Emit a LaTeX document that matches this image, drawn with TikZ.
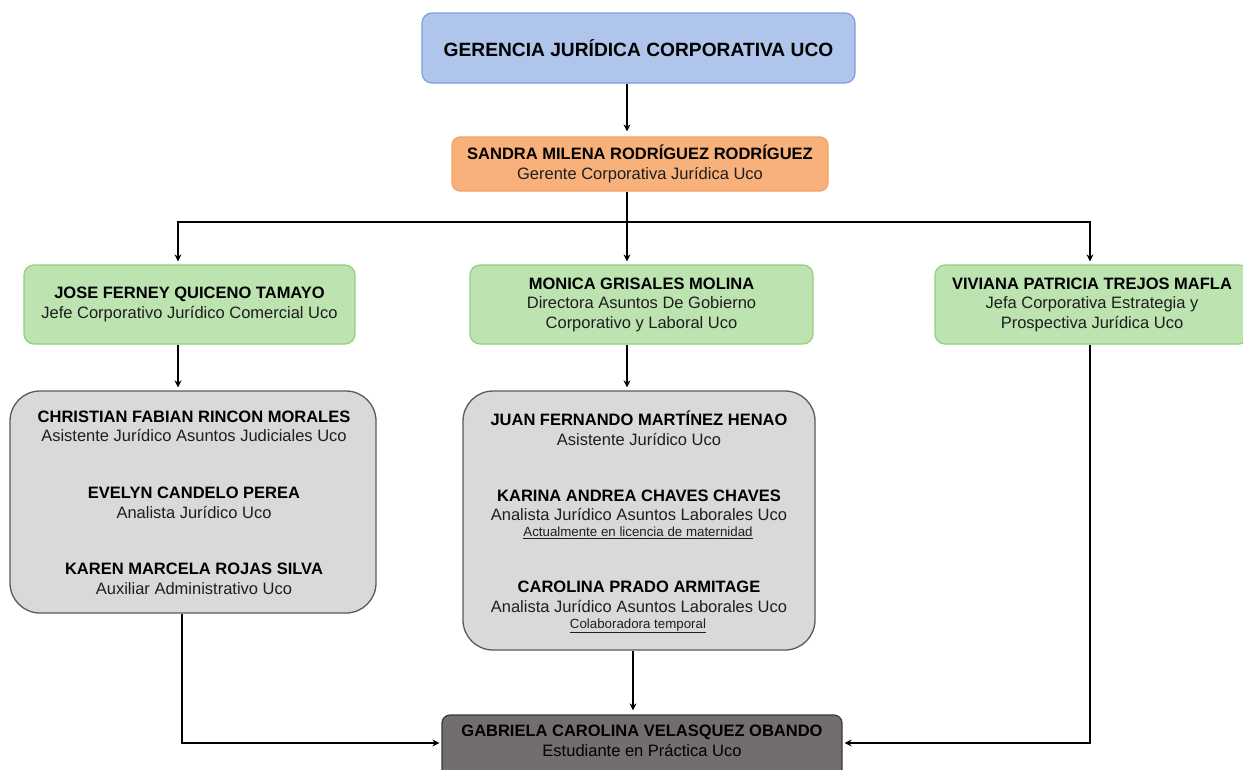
\documentclass[tikz,border=0pt]{standalone}
\usepackage{fontspec}
\setmainfont{Liberation Sans}
\usetikzlibrary{arrows.meta}
\definecolor{topfill}{HTML}{B0C5EB}
\definecolor{topdraw}{HTML}{7E9FDA}
\definecolor{orgfill}{HTML}{F9B17B}
\definecolor{orgdraw}{HTML}{F6A263}
\definecolor{grnfill}{HTML}{BDE3B1}
\definecolor{grndraw}{HTML}{90D07E}
\definecolor{gryfill}{HTML}{D9D9D9}
\definecolor{grydraw}{HTML}{5A5A5A}
\definecolor{botfill}{HTML}{736E6E}
\definecolor{botdraw}{HTML}{3A3A3A}
\definecolor{subtxt}{HTML}{1E1E1E}
\begin{document}
\begin{tikzpicture}[x=1pt,y=-1pt,
  basebox/.style={rectangle, line width=1.2pt, inner sep=0pt, align=center,
    font=\fontsize{16.5}{19.5}\selectfont},
  topbox/.style={basebox, rounded corners=10pt, fill=topfill, draw=topdraw},
  orgbox/.style={basebox, rounded corners=8pt, fill=orgfill, draw=orgdraw},
  grnbox/.style={basebox, rounded corners=10pt, fill=grnfill, draw=grndraw},
  grybox/.style={basebox, rounded corners=30pt, fill=gryfill, draw=grydraw, line width=1.3pt},
  botbox/.style={basebox, rounded corners=8pt, fill=botfill, draw=botdraw},
  txt/.style={align=center, inner sep=0pt, font=\fontsize{16.5}{19.5}\selectfont},
  small/.style={align=center, inner sep=0pt, font=\fontsize{13.3}{15}\selectfont, text=subtxt},
  arr/.style={line width=1.3pt, -{Stealth[length=7pt,width=7pt]}, shorten >=3pt},
  ln/.style={line width=1.3pt}
]
\useasboundingbox (0,0) rectangle (1243,769);

% boxes
\node[topbox, minimum width=433pt, minimum height=70pt, font=\fontsize{19.2}{22}\selectfont\bfseries] (top) at (638.5,48) {GERENCIA JURÍDICA CORPORATIVA UCO};
\node[orgbox, minimum width=376pt, minimum height=54pt] (org) at (640,164)
  {\textbf{SANDRA MILENA RODRÍGUEZ RODRÍGUEZ}\\ \textcolor{subtxt}{Gerente Corporativa Jurídica Uco}};
\node[grnbox, minimum width=331pt, minimum height=79pt] (gL) at (189.5,304.5)
  {\textbf{JOSE FERNEY QUICENO TAMAYO}\\ \textcolor{subtxt}{Jefe Corporativo Jurídico Comercial Uco}};
\node[grnbox, minimum width=343pt, minimum height=79pt] (gM) at (641.5,304.5)
  {\textbf{MONICA GRISALES MOLINA}\\ \textcolor{subtxt}{Directora Asuntos De Gobierno}\\ \textcolor{subtxt}{Corporativo y Laboral Uco}};
\node[grnbox, minimum width=314pt, minimum height=79pt] (gR) at (1092,304.5)
  {\textbf{VIVIANA PATRICIA TREJOS MAFLA}\\ \textcolor{subtxt}{Jefa Corporativa Estrategia y}\\ \textcolor{subtxt}{Prospectiva Jurídica Uco}};
\node[grybox, minimum width=366pt, minimum height=222pt] (yL) at (193,502) {};
\node[grybox, minimum width=352pt, minimum height=259pt] (yM) at (639,520.5) {};
\node[botbox, minimum width=400pt, minimum height=62pt] (bot) at (642,746) {};

% texts in grey boxes
\node[txt] (yL1) at (194,426.5) {\textbf{CHRISTIAN FABIAN RINCON MORALES}\\ \textcolor{subtxt}{Asistente Jurídico Asuntos Judiciales Uco}};
\node[txt] (yL2) at (194,503) {\textbf{EVELYN CANDELO PEREA}\\ \textcolor{subtxt}{Analista Jurídico Uco}};
\node[txt] (yL3) at (194,579) {\textbf{KAREN MARCELA ROJAS SILVA}\\ \textcolor{subtxt}{Auxiliar Administrativo Uco}};

\node[txt] (yM1) at (639,428.5) {\textbf{JUAN FERNANDO MARTÍNEZ HENAO}\\ \textcolor{subtxt}{Asistente Jurídico Uco}};
\node[txt] (yM2) at (639,505.5) {\textbf{KARINA ANDREA CHAVES CHAVES}\\ \textcolor{subtxt}{Analista Jurídico Asuntos Laborales Uco}};
\node[small] (yM2s) at (638,533) {\underline{Actualmente en licencia de maternidad}};
\node[txt] (yM3) at (639,597) {\textbf{CAROLINA PRADO ARMITAGE}\\ \textcolor{subtxt}{Analista Jurídico Asuntos Laborales Uco}};
\node[small] (yM3s) at (638,626) {\underline{Colaboradora temporal}};

\node[txt] (botT) at (642,741) {\textbf{GABRIELA CAROLINA VELASQUEZ OBANDO}\\ \textcolor{black}{Estudiante en Práctica Uco}};

% connectors
\coordinate (bj) at (627,222);
\draw[arr, shorten >=5pt] ([xshift=-11.5pt]top.south) -- ([xshift=-11.5pt]top.south |- org.north);
\draw[ln] ([xshift=-13pt]org.south) -- (bj);
\draw[arr] (bj) -| ([xshift=-11.5pt]gL.north);
\draw[arr] (bj) -| ([xshift=-2pt]gR.north);
\draw[arr] (bj) -- ([xshift=-14.5pt]gM.north);
\draw[arr] ([xshift=-11.5pt]gL.south) -- ([xshift=-11.5pt]gL.south |- yL.north);
\draw[arr] ([xshift=-14.5pt]gM.south) -- ([xshift=-14.5pt]gM.south |- yM.north);
\draw[arr, shorten >=2pt] ([xshift=-11pt]yL.south) |- ([yshift=3pt]bot.west);
\draw[arr, shorten >=4pt] ([xshift=-6pt]yM.south) -- ([xshift=-6pt]yM.south |- bot.north);
\draw[arr, shorten >=2pt] ([xshift=-2pt]gR.south) |- ([yshift=3pt]bot.east);
\end{tikzpicture}
\end{document}
